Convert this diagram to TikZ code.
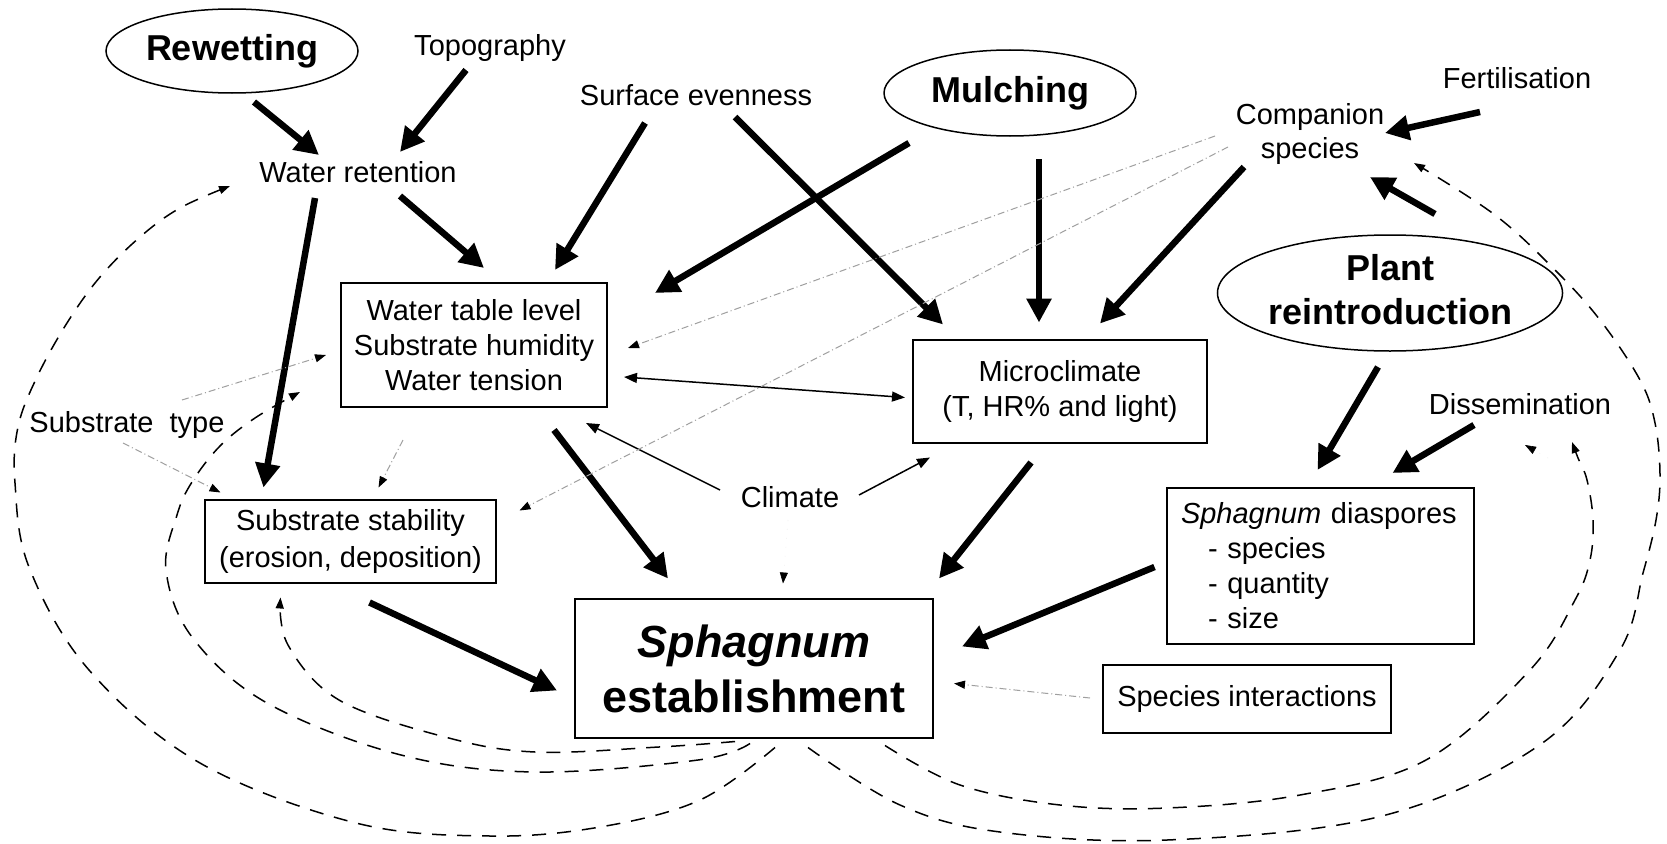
\documentclass[tikz,border=0pt]{standalone}
\usepackage{fontspec}
\setmainfont{Liberation Sans}
\usetikzlibrary{arrows.meta,shapes.geometric}
\begin{document}
\begin{tikzpicture}[x=1pt,y=-1pt,
  lbl/.style={inner sep=0pt, font=\fontsize{29}{34}\selectfont, align=center},
  ell/.style={draw, ellipse, line width=1.5pt, inner sep=0pt, font=\fontsize{36}{44}\selectfont\bfseries, align=center},
  box/.style={draw, rectangle, line width=1.8pt, inner sep=0pt, font=\fontsize{29}{35}\selectfont, align=center},
  big/.style={line width=6.5pt, -{Triangle[length=24pt,width=24pt]}},
  thinarrow/.style={line width=1.5pt, -{Triangle[length=13pt,width=10pt]}},
  dblarrow/.style={line width=1.5pt, {Triangle[length=13pt,width=10pt]}-{Triangle[length=13pt,width=10pt]}},
  dasharrow/.style={line width=1.5pt, dash pattern=on 14pt off 11pt, -{Triangle[length=11pt,width=8pt]}},
  dotarrow/.style={draw=gray!75, line width=1pt, dash pattern=on 7pt off 3pt on 1pt off 3pt, -{Triangle[length=11pt,width=8pt,color=black]}},
  faintarrow/.style={draw=gray!10, line width=0.6pt, dash pattern=on 1pt off 8pt, -{Triangle[length=11pt,width=8pt,color=black]}}
]
\path[use as bounding box, fill=white] (0,0) rectangle (1667,843);

% ---- nodes ----
\node[ell, minimum width=252pt, minimum height=84pt] (rew) at (232,51) {Rewetting};
\node[lbl] (topo) at (490,48) {Topography};
\node[lbl] (surf) at (696,95) {Surface evenness};
\node[ell, minimum width=252pt, minimum height=86pt] (mulch) at (1010,93) {Mulching};
\node[lbl] (fert) at (1517,78) {Fertilisation};
\node[lbl] (comp) at (1310,134) {Companion\\species};
\node[ell, minimum width=322pt, minimum height=116pt, text depth=8pt] (plant) at (1390,293) {Plant\\reintroduction};
\node[lbl] (wr) at (358,172) {Water retention};
\node[box, minimum width=266pt, minimum height=124pt] (wt) at (474,345) {Water table level\\Substrate humidity\\Water tension};
\node[box, minimum width=294pt, minimum height=103pt] (micro) at (1060,391.5) {Microclimate\\(T, HR\% and light)};
\node[lbl] (subtype) at (127,425) {Substrate~ type};
\node[lbl] (climate) at (790,497) {Climate};
\node[box, minimum width=291pt, minimum height=83pt, font=\fontsize{29}{37}\selectfont] (stab) at (350.5,541.5) {Substrate stability\\(erosion, deposition)};
\node[box, minimum width=358pt, minimum height=139pt, font=\fontsize{45}{55}\selectfont\bfseries] (est) at (754,668.5) {\textit{Sphagnum}\\establishment};
\node[lbl] (diss) at (1520,404) {Dissemination};
\node[box, minimum width=307pt, minimum height=156pt, text width=279pt, inner xsep=14pt, align=left] (dia) at (1320.5,566) {\textit{Sphagnum} diaspores\\\hspace*{27pt}- species\\\hspace*{27pt}- quantity\\\hspace*{27pt}- size};
\node[box, minimum width=288pt, minimum height=68pt] (si) at (1247,699) {Species interactions};
\coordinate (lonetail) at (1548,458);

% ---- thick arrows ----
\draw[big] ([shift={(22,51)}]rew.center) -- ([shift={(-39,-17)}]wr.center);
\draw[big] ([shift={(-24,22)}]topo.center) -- ([shift={(42,-20)}]wr.center);
\draw[big] ([shift={(42,24)}]wr.center) -- ([shift={(10,-77)}]wt.center);
\draw[big] ([shift={(-43,26)}]wr.center) -- ([shift={(-87,-54)}]stab.center);
\draw[big] ([shift={(-51,28)}]surf.center) -- ([shift={(81,-75)}]wt.center);
\draw[big] ([shift={(39,22)}]surf.center) -- ([shift={(-117,-67)}]micro.center);
\draw[big] ([shift={(-101,50)}]mulch.center) -- ([shift={(181,-52)}]wt.center);
\draw[big] ([shift={(29,66)}]mulch.center) -- ([shift={(-21,-69)}]micro.center);
\draw[big] ([shift={(-66,33)}]comp.center) -- ([shift={(40,-68)}]micro.center);
\draw[big] ([shift={(-37,34)}]fert.center) -- ([shift={(75,-1)}]comp.center);
\draw[big] ([shift={(45,-79)}]plant.center) -- ([shift={(60,43)}]comp.center);
\draw[big] ([shift={(-12,74)}]plant.center) -- ([shift={(-3,-96)}]dia.center);
\draw[big] ([shift={(-46,21)}]diss.center) -- ([shift={(72,-93)}]dia.center);
\draw[big] ([shift={(80,85)}]wt.center) -- ([shift={(-86,-90)}]est.center);
\draw[big] ([shift={(-29,71)}]micro.center) -- ([shift={(185,-90)}]est.center);
\draw[big] ([shift={(19,61)}]stab.center) -- ([shift={(-197,22)}]est.center);
\draw[big] ([shift={(-166,1)}]dia.center) -- ([shift={(208,-22)}]est.center);

% ---- thin solid arrows ----
\draw[dblarrow] ([shift={(150,32)}]wt.center) -- ([shift={(-155,6)}]micro.center);
\draw[thinarrow] ([shift={(-70,-7)}]climate.center) -- ([shift={(112,78)}]wt.center);
\draw[thinarrow] ([shift={(69,-2)}]climate.center) -- ([shift={(-130,66)}]micro.center);

% ---- dotted grey arrows ----
\draw[dotarrow] ([shift={(-95,2)}]comp.center) -- ([shift={(154,3)}]wt.center);
\draw[dotarrow] ([shift={(-82,13)}]comp.center) -- ([shift={(169,-31)}]stab.center);
\draw[dotarrow] ([shift={(55,-25)}]subtype.center) -- ([shift={(-148,10)}]wt.center);
\draw[dotarrow] ([shift={(-4,18)}]subtype.center) -- ([shift={(-130,-49)}]stab.center);
\draw[dotarrow] ([shift={(-71,95)}]wt.center) -- ([shift={(28,-54)}]stab.center);
\draw[dotarrow] ([shift={(-157,-1)}]si.center) -- ([shift={(200,15)}]est.center);
\draw[faintarrow] ([shift={(-2,23)}]climate.center) -- ([shift={(29,-85)}]est.center);
\draw[faintarrow] (lonetail) -- ([shift={(5,41)}]diss.center);

% ---- dashed feedback curves ----
\draw[dasharrow] plot[smooth, tension=0.6] coordinates {([shift={(-19,73)}]est.center) (659,747) (535,752) (445,737) (339,700) (288,645) ([shift={(-70,56)}]stab.center)};
\draw[dasharrow] plot[smooth, tension=0.6] coordinates {([shift={(-4,75)}]est.center) (698,760) (535,772) (401,755) (267,703) (192,637) (166,570) (177,515) (192,482) (220,446) (255,418) ([shift={(-174,47)}]wt.center)};
\draw[dasharrow] plot[smooth, tension=0.6] coordinates {([shift={(21,79)}]est.center) (700,800) (600,827) (490,836) (356,823) (200,763) (89,670) (29,567) (15,483) (18,427) (37,377) (67,323) (100,277) (140,237) (180,208) ([shift={(-128,14)}]wr.center)};
\draw[dasharrow] plot[smooth, tension=0.6] coordinates {([shift={(54,79)}]est.center) (900,805) (1000,832) (1167,840) (1382,816) (1541,744) (1620,650) (1643,573) (1656,520) (1660,475) (1655,423) (1640,380) (1600,320) (1555,270) (1495,215) ([shift={(104,29)}]comp.center)};
\draw[dasharrow] plot[smooth, tension=0.6] coordinates {([shift={(131,77)}]est.center) (960,785) (1060,805) (1167,808) (1300,795) (1426,760) (1530,670) (1575,600) (1590,560) (1593,520) (1587,480) (1578,458) ([shift={(52,38)}]diss.center)};
\end{tikzpicture}
\end{document}
